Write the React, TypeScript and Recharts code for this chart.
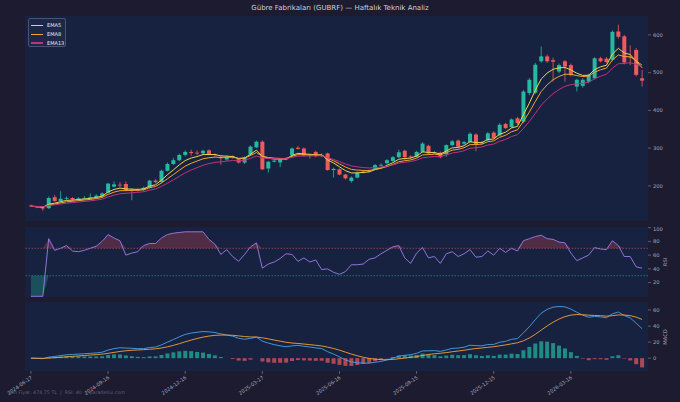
import { ComposedChart, Bar, Line, Area, XAxis, YAxis, ReferenceLine, CartesianGrid, Cell } from 'recharts';

// weekly OHLC, 2024-06-17 .. 2026-06-08
const opens = [148, 146, 143, 141, 170, 160, 166, 168, 164, 167, 168, 170, 173, 182, 198, 203, 205, 188, 190, 189,
  195, 214, 210, 240, 258, 268, 282, 290, 288, 286, 294, 284, 276, 270, 278, 271, 262, 283, 302, 317,
  246, 264, 262, 270, 281, 301, 299, 279, 290, 280, 286, 242, 244, 230, 213, 222, 235, 238, 245, 254,
  260, 266, 276, 293, 278, 277, 290, 306, 287, 288, 284, 308, 320, 312, 316, 336, 313, 321, 341, 334,
  364, 356, 379, 370, 446, 447, 530, 543, 533, 503, 530, 520, 463, 465, 476, 485, 538, 537, 534, 609,
  596, 542, 560, 485];
const highs = [150, 147, 145, 172, 176, 186, 172, 170, 170, 173, 180, 178, 183, 208, 212, 210, 212, 194, 194, 198,
  216, 218, 243, 262, 274, 285, 294, 296, 294, 296, 297, 286, 280, 281, 281, 274, 278, 307, 320, 321,
  266, 270, 273, 276, 302, 306, 302, 285, 293, 286, 288, 248, 246, 232, 225, 238, 241, 243, 258, 260,
  271, 279, 296, 296, 281, 293, 316, 309, 292, 291, 310, 322, 323, 319, 342, 340, 319, 343, 345, 366,
  367, 379, 383, 454, 486, 526, 569, 548, 540, 524, 533, 524, 484, 485, 497, 541, 542, 541, 612, 627,
  600, 572, 565, 507];
const lows = [144, 141, 134, 139, 158, 155, 162, 160, 160, 164, 165, 168, 171, 180, 196, 196, 186, 162, 185, 187,
  193, 207, 208, 238, 255, 265, 278, 280, 282, 283, 281, 278, 256, 266, 272, 259, 258, 280, 300, 242,
  235, 262, 250, 268, 278, 296, 278, 272, 276, 276, 240, 222, 228, 217, 208, 220, 233, 236, 242, 250,
  257, 263, 274, 268, 272, 275, 288, 283, 284, 273, 277, 305, 301, 309, 314, 292, 309, 318, 324, 331,
  350, 353, 362, 366, 440, 443, 526, 526, 476, 498, 476, 490, 450, 460, 472, 482, 527, 525, 530, 590,
  522, 520, 490, 463];
const closes = [146, 143, 140, 168, 160, 166, 168, 164, 167, 168, 170, 174, 180, 206, 204, 201, 188, 190, 189, 195,
  214, 210, 240, 258, 268, 282, 290, 287, 286, 293, 284, 282, 273, 277, 276, 262, 276, 304, 317, 244,
  264, 267, 270, 272, 299, 298, 281, 282, 279, 282, 242, 245, 230, 220, 222, 235, 238, 240, 255, 256,
  268, 276, 289, 276, 276, 290, 312, 286, 288, 276, 308, 318, 304, 316, 338, 310, 315, 339, 327, 362,
  353, 376, 366, 450, 481, 521, 543, 530, 529, 520, 516, 494, 481, 481, 494, 538, 530, 528, 608, 595,
  527, 540, 494, 478.75];

// RSI(14)
const rsiValues = [0, 0, 0, 84, 67, 70, 74, 66, 65, 67, 70, 73, 80, 90, 85, 81, 60, 63, 65, 74,
  77, 77, 85, 90, 92, 93, 94, 94, 94, 94, 83, 76, 61, 68, 58, 51, 61, 72, 78, 41,
  47, 50, 55, 62, 61, 51, 56, 50, 53, 39, 40, 35, 32, 36, 46, 46, 47, 54, 56, 62,
  67, 72, 74, 56, 48, 63, 71, 56, 58, 48, 62, 65, 58, 62, 68, 57, 58, 66, 60, 70,
  64, 70, 66, 81, 84, 87, 89, 84, 83, 79, 78, 63, 52, 56, 60, 71, 69, 68, 81, 74,
  58, 58, 43, 41];

const tickIdx = [0, 13, 26, 39, 52, 65, 78, 91];
const tickLabels = ['2024-06-17', '2024-09-16', '2024-12-16', '2025-03-17', '2025-06-16', '2025-09-15', '2025-12-15', '2026-03-16'];
const priceTicks = [200, 300, 400, 500, 600];
const rsiTicks = [0, 20, 40, 60, 80, 100];
const macdTicks = [0, 20, 40, 60];
const emaNames = ['EMA5', 'EMA8', 'EMA13'];
const emaColors = ['#e9d84a', '#f5a233', '#c2307f'];

const BG = '#1c1b2f';
const PANEL = '#172240';
const GREEN = '#27b8a0';
const RED = '#f05a5a';
const TICK = '#a8a8bc';

const ema = (src: number[], n: number) => {
  const k = 2 / (n + 1);
  const out: number[] = [];
  src.forEach((v, i) => out.push(i === 0 ? v : v * k + out[i - 1] * (1 - k)));
  return out;
};

const e5 = ema(closes, 5);
const e8 = ema(closes, 8);
const e13 = ema(closes, 13);
const e12 = ema(closes, 12);
const e26 = ema(closes, 26);
const macd = closes.map((_, i) => e12[i] - e26[i]);
const signal = ema(macd, 9);

const data = closes.map((c, i) => ({
  i,
  o: opens[i],
  h: highs[i],
  l: lows[i],
  c,
  range: [lows[i], highs[i]],
  ema5: e5[i],
  ema8: e8[i],
  ema13: e13[i],
  rsi: rsiValues[i],
  ob: [70, Math.max(rsiValues[i], 70)],
  os: [Math.min(rsiValues[i], 30), 30],
  macd: macd[i],
  signal: signal[i],
  hist: macd[i] - signal[i],
}));

const Candle = (props: any) => {
  const { x, y, width, height, payload } = props;
  const { o, h, l, c } = payload;
  const top = Math.min(y, y + height);
  const hh = Math.abs(height);
  const ratio = hh / (h - l || 1);
  const color = c >= o ? GREEN : RED;
  const cx = x + width / 2;
  const bodyTop = top + (h - Math.max(o, c)) * ratio;
  const bodyH = Math.max(Math.abs(o - c) * ratio, 0.8);
  return (
    <g>
      <line x1={cx} x2={cx} y1={top} y2={top + hh} stroke={color} strokeWidth={0.8} />
      <rect x={x} y={bodyTop} width={width} height={bodyH} fill={color} />
    </g>
  );
};

const DateTick = (props: any) => {
  const { x, y, payload } = props;
  const label = tickLabels[tickIdx.indexOf(payload.value)];
  return (
    <g transform={`translate(${x},${y})`}>
      <text x={0} y={0} dy={3} textAnchor='end' transform='rotate(-35)' fontSize={5} fill={TICK}>
        {label}
      </text>
    </g>
  );
};

const margin = { top: 1, right: 2, bottom: 0, left: 25 };
const yAxisProps = {
  orientation: 'right' as const,
  width: 30,
  axisLine: false,
  tickSize: 3,
  tickLine: { stroke: '#8a8aa0', strokeWidth: 0.6 },
  tick: { fontSize: 5.2, fill: TICK },
  allowDataOverflow: true,
};

const App = () => {
  return (
    <div style={{ position: 'absolute', left: 0, top: 0, width: 680, height: 402, background: BG, fontFamily: 'DejaVu Sans', overflow: 'hidden' }}>
      <div style={{ position: 'absolute', top: 4, width: 680, textAlign: 'center', fontSize: 7, color: '#d0d0dc' }}>
        Gübre Fabrikaları (GUBRF) — Haftalık Teknik Analiz
      </div>

      <div style={{ position: 'absolute', top: 0, left: 0 }}>
        <ComposedChart width={680} height={222} data={data} margin={{ ...margin, top: 16, bottom: 1 }}>
          <CartesianGrid fill={PANEL} horizontal={false} vertical={false} />
          <XAxis type='number' dataKey='i' domain={[-1, 104]} hide allowDataOverflow />
          <YAxis {...yAxisProps} domain={[107, 650]} ticks={priceTicks} />
          <Bar dataKey='range' barSize={4} shape={<Candle />} isAnimationActive={false} />
          <Line dataKey='ema5' stroke={emaColors[0]} strokeWidth={1} dot={false} isAnimationActive={false} />
          <Line dataKey='ema8' stroke={emaColors[1]} strokeWidth={1} dot={false} isAnimationActive={false} />
          <Line dataKey='ema13' stroke={emaColors[2]} strokeWidth={1} dot={false} isAnimationActive={false} />
        </ComposedChart>
      </div>

      <div style={{ position: 'absolute', top: 18, left: 28, width: 38, height: 29, border: '0.6px solid #4a5274', borderRadius: 2, background: '#1d2846', boxSizing: 'border-box', padding: '2px 0 0 2px' }}>
        {emaNames.map((n, k) => (
          <div key={n} style={{ display: 'flex', alignItems: 'center', height: 8.8 }}>
            <div style={{ width: 12, height: 1.2, background: emaColors[k], marginRight: 4 }} />
            <span style={{ fontSize: 5, color: '#e8e8f0' }}>{n}</span>
          </div>
        ))}
      </div>

      <div style={{ position: 'absolute', top: 226, left: 0 }}>
        <ComposedChart width={680} height={71} data={data} margin={margin}>
          <CartesianGrid fill={PANEL} horizontal={false} vertical={false} />
          <XAxis type='number' dataKey='i' domain={[-1, 104]} hide allowDataOverflow />
          <YAxis {...yAxisProps} domain={[-1, 101]} ticks={rsiTicks} />
          <Area dataKey='ob' type='linear' stroke='none' fill='#b5434f' fillOpacity={0.35} isAnimationActive={false} />
          <Area dataKey='os' type='linear' stroke='none' fill='#27b8a0' fillOpacity={0.3} isAnimationActive={false} />
          <ReferenceLine y={70} stroke='#d05a5a' strokeDasharray='1.5 1.5' strokeWidth={0.6} />
          <ReferenceLine y={30} stroke='#2aa89a' strokeDasharray='1.5 1.5' strokeWidth={0.6} />
          <Line dataKey='rsi' stroke='#9d7ce8' strokeWidth={0.9} dot={false} isAnimationActive={false} />
        </ComposedChart>
      </div>

      <div style={{ position: 'absolute', top: 301, left: 0 }}>
        <ComposedChart width={680} height={101} data={data} margin={margin}>
          <CartesianGrid fill={PANEL} horizontal={false} vertical={false} />
          <XAxis
            type='number'
            dataKey='i'
            domain={[-1, 104]}
            ticks={tickIdx}
            interval={0}
            height={31}
            axisLine={false}
            tickSize={3}
            tickLine={{ stroke: '#8a8aa0', strokeWidth: 0.6 }}
            tick={<DateTick />}
            allowDataOverflow
          />
          <YAxis {...yAxisProps} domain={[-16, 70]} ticks={macdTicks} />
          <Bar dataKey='hist' barSize={4} isAnimationActive={false}>
            {data.map((d) => (
              <Cell key={d.i} fill={d.hist >= 0 ? GREEN : RED} fillOpacity={0.7} />
            ))}
          </Bar>
          <Line dataKey='macd' stroke='#4a9fe8' strokeWidth={0.9} dot={false} isAnimationActive={false} />
          <Line dataKey='signal' stroke='#f5a233' strokeWidth={0.9} dot={false} isAnimationActive={false} />
        </ComposedChart>
      </div>

      <div style={{ position: 'absolute', left: 665, top: 262, transform: 'translate(-50%,-50%) rotate(-90deg)', fontSize: 5.2, color: TICK }}>RSI</div>
      <div style={{ position: 'absolute', left: 665, top: 337, transform: 'translate(-50%,-50%) rotate(-90deg)', fontSize: 5.2, color: TICK }}>MACD</div>
      <div style={{ position: 'absolute', left: 8, top: 390, fontSize: 4.8, color: '#5e5e7c', whiteSpace: 'pre' }}>
        Son Fiyat: 478.75 TL  |  RSI: 40  |  paradeniz.com
      </div>
    </div>
  );
};

export default App;
